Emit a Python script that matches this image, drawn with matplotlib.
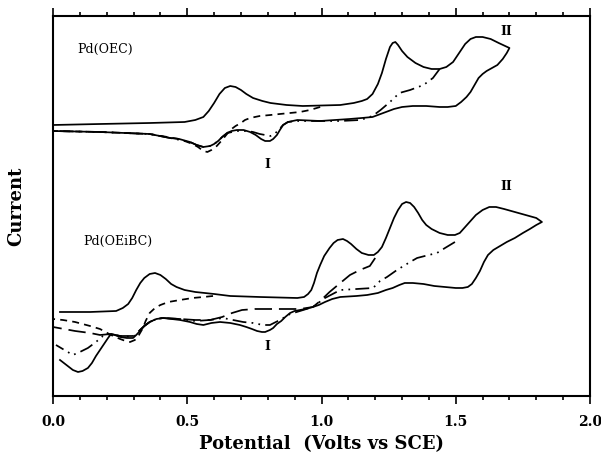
import matplotlib
matplotlib.use("Agg")
import matplotlib.pyplot as plt
from matplotlib.ticker import MultipleLocator

# potential (V vs SCE) and current (arbitrary units)

# ---- Pd(OEC) ----
oec_solid_v = [0.0, 0.175, 0.361, 0.49, 0.53, 0.56, 0.58, 0.60, 0.62, 0.64, 0.66, 0.68, 0.70, 0.72,
               0.745, 0.78, 0.81, 0.87, 0.93, 1.07, 1.12, 1.15, 1.17, 1.19, 1.21, 1.225, 1.24, 1.255,
               1.265, 1.275, 1.285, 1.30, 1.32, 1.35, 1.38, 1.41, 1.44, 1.465, 1.49, 1.515, 1.535,
               1.555, 1.575, 1.60, 1.63, 1.66, 1.70,
               1.69, 1.675, 1.655, 1.635, 1.615, 1.60, 1.585, 1.57, 1.555, 1.54, 1.52, 1.50, 1.47,
               1.44, 1.39, 1.34, 1.30, 1.27, 1.24, 1.21, 1.19, 1.15, 1.105, 0.995, 0.91, 0.875,
               0.857, 0.845, 0.834, 0.82, 0.808, 0.79, 0.775, 0.755, 0.734, 0.71, 0.685, 0.665, 0.648,
               0.63, 0.615, 0.60, 0.585, 0.56, 0.535, 0.51, 0.47, 0.436, 0.36, 0.175, 0.0]
oec_solid_i = [271, 272, 273, 274, 276, 279, 285, 293, 302, 308, 310, 309, 306, 302,
               298, 295, 293, 291, 290, 291, 293, 295, 297, 302, 312, 323, 337, 349,
               353, 354, 351, 345, 339, 333, 329, 327, 327, 329, 334, 344, 352,
               357, 359, 359, 357, 353, 348,
               343, 337, 331, 328, 325, 322, 318, 311, 304, 299, 294, 290, 289,
               289, 290, 290, 289, 287, 284, 281, 279, 278, 277, 275, 276, 274,
               271, 266, 261, 257, 255, 255, 257, 261, 264, 266, 266, 265, 263,
               259, 255, 252, 250, 249, 251, 254, 257, 258, 262, 264, 265]

oec_dash_v = [0.995, 0.957, 0.92, 0.883, 0.845, 0.81, 0.77, 0.734, 0.715, 0.70, 0.68, 0.66, 0.645,
              0.63, 0.61, 0.59, 0.575, 0.56, 0.54, 0.52, 0.49, 0.47, 0.36, 0.175, 0.0]
oec_dash_i = [289, 286, 284, 283, 282, 281, 280, 278, 276, 273, 270, 266, 261,
              256, 250, 246, 244, 245, 249, 252, 255, 257, 262, 264, 265]

oec_dd_v = [1.44, 1.415, 1.38, 1.33, 1.29, 1.255, 1.22, 1.19, 1.145, 1.07, 0.995, 0.91, 0.875,
            0.857, 0.84, 0.825, 0.81, 0.79, 0.77, 0.745, 0.725, 0.685, 0.65, 0.63, 0.615, 0.60,
            0.585, 0.56, 0.535, 0.51, 0.436, 0.36, 0.175, 0.0]
oec_dd_i = [327, 318, 311, 306, 303, 294, 286, 280, 276, 275, 275, 275, 274,
            271, 266, 262, 260, 261, 262, 264, 265, 265, 263, 259, 255, 252,
            250, 249, 251, 254, 258, 262, 264, 265]

# ---- Pd(OEiBC) ----
oeibc_solid_v = [0.026, 0.138, 0.235, 0.26, 0.28, 0.295, 0.31, 0.325, 0.34, 0.36, 0.38, 0.40, 0.42,
                 0.44, 0.46, 0.49, 0.53, 0.60, 0.66, 0.77, 0.91, 0.935, 0.95, 0.962, 0.972, 0.983,
                 0.995, 1.01, 1.03, 1.045, 1.06, 1.08, 1.095, 1.11, 1.13, 1.15, 1.175, 1.195, 1.21,
                 1.225, 1.24, 1.255, 1.27, 1.285, 1.30, 1.315, 1.33, 1.345, 1.36, 1.375, 1.39, 1.41,
                 1.44, 1.47, 1.497, 1.515, 1.535, 1.555, 1.575, 1.60, 1.625, 1.65, 1.68, 1.72, 1.76,
                 1.80, 1.821,
                 1.80, 1.776, 1.75, 1.72, 1.69, 1.665, 1.64, 1.62, 1.605, 1.59, 1.575, 1.56, 1.545,
                 1.525, 1.50, 1.46, 1.42, 1.38, 1.34, 1.31, 1.29, 1.265, 1.24, 1.21, 1.17, 1.13,
                 1.07, 1.04, 1.013, 0.99, 0.968, 0.94, 0.92, 0.90, 0.883, 0.865, 0.85, 0.834, 0.82,
                 0.808, 0.79, 0.778, 0.76, 0.741, 0.72, 0.696, 0.66, 0.622, 0.59, 0.56, 0.535, 0.51,
                 0.473, 0.44, 0.41, 0.385, 0.36, 0.34, 0.324, 0.31, 0.298, 0.275, 0.25, 0.23, 0.216,
                 0.205, 0.19, 0.175, 0.16, 0.145, 0.13, 0.11, 0.093, 0.074, 0.05, 0.026]
oeibc_solid_i = [84, 84, 85, 88, 92, 98, 106, 113, 118, 122, 123, 121, 117,
                 112, 109, 106, 104, 102, 100, 99, 98, 99, 102, 106, 113, 123,
                 131, 140, 148, 153, 156, 157, 155, 152, 147, 143, 141, 141, 144,
                 149, 158, 168, 178, 186, 192, 194, 193, 189, 183, 176, 171, 167,
                 163, 161, 161, 163, 169, 175, 181, 186, 189, 189, 187, 184, 181,
                 178, 174,
                 171, 167, 163, 158, 154, 150, 146, 141, 134, 125, 118, 112, 109,
                 108, 108, 109, 110, 112, 113, 113, 111, 108, 106, 103, 101, 100,
                 99, 97, 94, 91, 89, 87, 86, 85, 83, 79, 75, 72, 68,
                 66, 64, 64, 65, 67, 69, 71, 73, 74, 73, 71, 72, 74,
                 76, 77, 78, 77, 74, 70, 65, 61, 58, 58, 59, 61, 62,
                 58, 52, 46, 40, 33, 28, 25, 24, 26, 31, 36]

oeibc_dash_v = [0.596, 0.56, 0.52, 0.473, 0.43, 0.40, 0.38, 0.36, 0.345, 0.335, 0.32, 0.305, 0.287,
                0.27, 0.25, 0.216, 0.175, 0.138, 0.082, 0.037, 0.0]
oeibc_dash_i = [100, 99, 98, 96, 94, 91, 88, 83, 75, 68, 61, 56, 54,
                55, 57, 61, 67, 70, 74, 76, 77]

oeibc_long_v = [1.20, 1.18, 1.143, 1.106, 1.07, 1.03, 0.995, 0.968, 0.92, 0.883, 0.81, 0.752, 0.704,
                0.667, 0.63, 0.585, 0.53, 0.473, 0.41, 0.385, 0.36, 0.34, 0.324, 0.31, 0.298, 0.25,
                0.216, 0.175, 0.138, 0.082, 0.0]
oeibc_long_i = [138, 130, 126, 121, 113, 104, 95, 89, 87, 87, 87, 87, 86,
                83, 79, 76, 76, 77, 78, 77, 74, 70, 66, 62, 60, 60,
                62, 61, 63, 65, 69]

oeibc_dd_v = [1.497, 1.46, 1.43, 1.385, 1.356, 1.33, 1.281, 1.244, 1.218, 1.192, 1.132, 1.07, 1.013,
              0.968, 0.92, 0.883, 0.845, 0.808, 0.782, 0.745, 0.708, 0.633, 0.585, 0.53, 0.473, 0.41,
              0.385, 0.36, 0.34, 0.324, 0.31, 0.298, 0.25, 0.216, 0.186, 0.16, 0.13, 0.10, 0.074,
              0.011]
oeibc_dd_i = [154, 148, 143, 140, 138, 134, 126, 119, 115, 108, 107, 106, 98,
              89, 85, 82, 76, 71, 71, 73, 74, 78, 76, 75, 77, 78,
              77, 74, 70, 66, 62, 59, 60, 62, 60, 54, 48, 44, 41,
              51]

x_ticks = [0.0, 0.5, 1.0, 1.5, 2.0]
x_ticklabels = ["0.0", "0.5", "1.0", "1.5", "2.0"]

serif = "DejaVu Serif"
dashed = (0, (4, 3))
longdash = (0, (10, 4))
dashdotdot = (0, (8, 3, 1, 3, 1, 3))

fig = plt.figure(figsize=(6.01, 4.57), dpi=100)
ax = fig.add_axes([0.0882, 0.1335, 0.8935, 0.8315])

lw = 1.25
ax.plot(oec_solid_v, oec_solid_i, color="black", lw=lw)
ax.plot(oec_dash_v, oec_dash_i, color="black", lw=lw, linestyle=dashed)
ax.plot(oec_dd_v, oec_dd_i, color="black", lw=lw, linestyle=dashdotdot)

ax.plot(oeibc_solid_v, oeibc_solid_i, color="black", lw=lw)
ax.plot(oeibc_dash_v, oeibc_dash_i, color="black", lw=lw, linestyle=dashed)
ax.plot(oeibc_long_v, oeibc_long_i, color="black", lw=lw, linestyle=longdash)
ax.plot(oeibc_dd_v, oeibc_dd_i, color="black", lw=lw, linestyle=dashdotdot)

# labels inside the plot
ax.text(0.089, 347, "Pd(OEC)", family=serif, fontsize=9, va="center", ha="left")
ax.text(0.80, 231, "I", family=serif, fontsize=9, fontweight="bold", va="center", ha="center")
ax.text(1.69, 364, "II", family=serif, fontsize=9, fontweight="bold", va="center", ha="center")
ax.text(0.112, 155, "Pd(OEiBC)", family=serif, fontsize=9, va="center", ha="left")
ax.text(0.797, 49, "I", family=serif, fontsize=9, fontweight="bold", va="center", ha="center")
ax.text(1.69, 209, "II", family=serif, fontsize=9, fontweight="bold", va="center", ha="center")

ax.set_xlim(0, 2.0)
ax.set_ylim(0, 380)
ax.set_xticks(x_ticks)
ax.set_xticklabels(x_ticklabels, family=serif, fontweight="bold", fontsize=10)
ax.xaxis.set_minor_locator(MultipleLocator(0.1))
ax.set_yticks([])
ax.tick_params(axis="x", which="both", direction="out", top=True, bottom=True, width=1.2)
ax.tick_params(axis="x", which="major", length=6, pad=8)
ax.tick_params(axis="x", which="minor", length=3)
for s in ax.spines.values():
    s.set_linewidth(1.5)

ax.set_xlabel("Potential  (Volts vs SCE)", family=serif, fontweight="bold", fontsize=13, labelpad=4)
ax.set_ylabel("Current", family=serif, fontweight="bold", fontsize=13, labelpad=20)

fig.savefig("out.png", dpi=100)
